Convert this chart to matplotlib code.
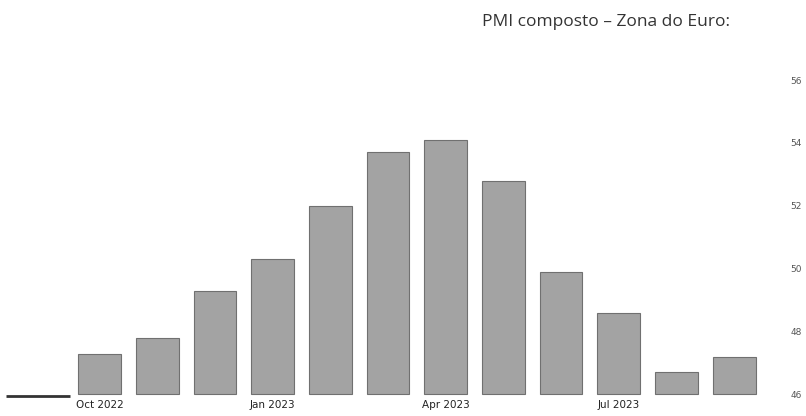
import matplotlib
matplotlib.use("Agg")
import matplotlib.pyplot as plt
import numpy as np

# Dados do gráfico
meses = ['Sep 2022', 'Oct 2022', 'Nov 2022', 'Dec 2022', 'Jan 2023', 'Feb 2023', 'Mar 2023',
         'Apr 2023', 'May 2023', 'Jun 2023', 'Jul 2023', 'Aug 2023', 'Sep 2023']
pmi = [np.nan, 47.3, 47.8, 49.3, 50.3, 52.0, 53.7, 54.1, 52.8, 49.9, 48.6, 46.7, 47.2]
yticks = [46, 48, 50, 52, 54, 56]
xtick_labels = ['Oct 2022', 'Jan 2023', 'Apr 2023', 'Jul 2023']

base = 46
W, H = 806, 416
fig = plt.figure(figsize=(W / 100, H / 100), dpi=100)
ax = fig.add_axes([6 / W, 1 - 396 / H, (778 - 6) / W, (396 - 80) / H])

x = np.arange(len(meses))
pmi = np.array(pmi)
ok = ~np.isnan(pmi)
ax.bar(x[ok], pmi[ok] - base, bottom=base, width=0.74, color='#a3a3a3', edgecolor='#707070', linewidth=0.8)

# traço inicial (primeiro mês sem barra visível)
ax.hlines(base - 0.05, -0.62, 0.48, color='#333333', linewidth=2, clip_on=False)

ax.set_xlim(-0.624, 12.76)
ax.set_ylim(base - 0.05, 56)

ax.set_xticks([meses.index(m) for m in xtick_labels])
ax.set_xticklabels(xtick_labels, fontsize=7.5, color='#222222', family='Liberation Sans Narrow')
ax.tick_params(axis='x', length=0, pad=3)

ax.yaxis.tick_right()
ax.set_yticks(yticks)
ax.set_yticklabels([str(t) for t in yticks], fontsize=6.5, color='#555555', family='Liberation Sans Narrow')
ax.tick_params(axis='y', length=0, pad=9)

for s in ax.spines.values():
    s.set_visible(False)

fig.text(482 / W, 1 - 22 / H, 'PMI composto – Zona do Euro:', fontsize=12.5, color='#333333',
         ha='left', va='center', family='Open Sans')

plt.savefig('out.png', dpi=100)
